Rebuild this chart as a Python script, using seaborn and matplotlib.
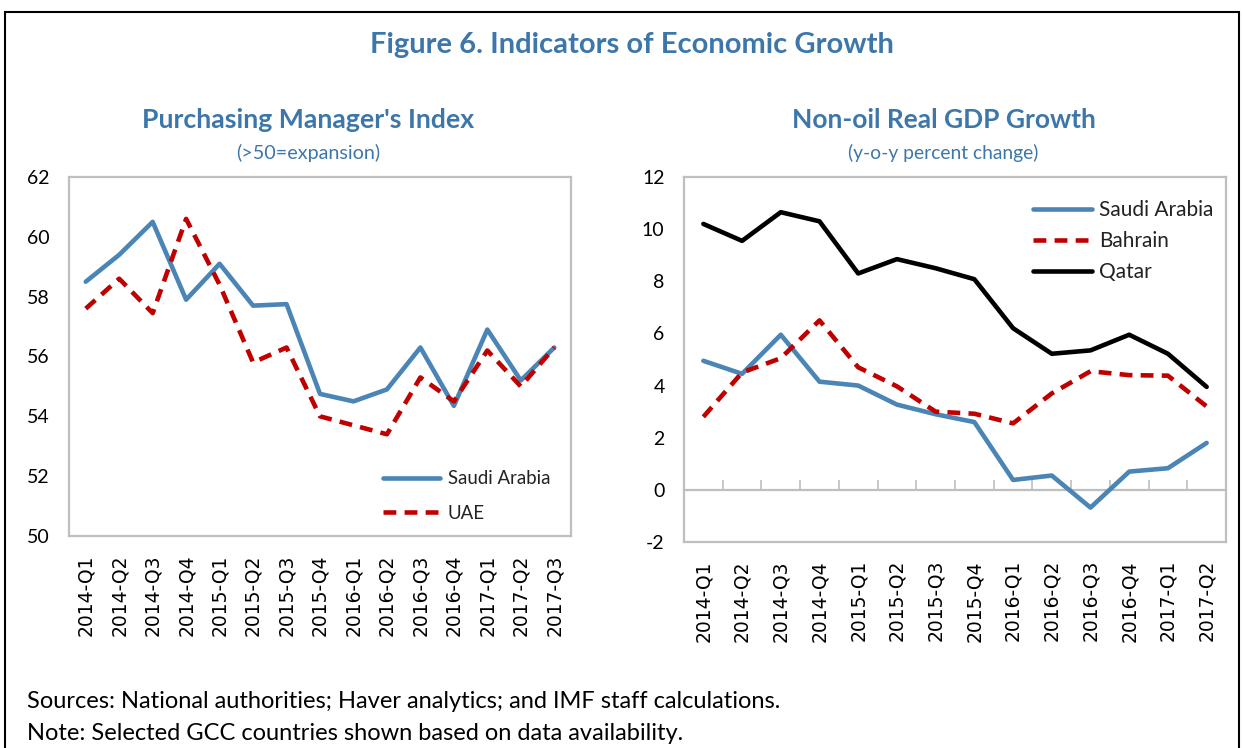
import matplotlib
matplotlib.use("Agg")
import matplotlib.pyplot as plt
import seaborn as sns
import pandas as pd
from matplotlib.patches import Rectangle

# ---------------- data ----------------
pmi_quarters = ["2014-Q1", "2014-Q2", "2014-Q3", "2014-Q4",
                "2015-Q1", "2015-Q2", "2015-Q3", "2015-Q4",
                "2016-Q1", "2016-Q2", "2016-Q3", "2016-Q4",
                "2017-Q1", "2017-Q2", "2017-Q3"]
pmi_saudi = [58.5, 59.4, 60.5, 57.9, 59.1, 57.7, 57.75, 54.75, 54.5, 54.9,
             56.3, 54.35, 56.9, 55.2, 56.3]
pmi_uae = [57.6, 58.6, 57.45, 60.6, 58.4, 55.8, 56.3, 54.0, 53.7, 53.4,
           55.3, 54.5, 56.2, 55.0, 56.3]

gdp_quarters = ["2014-Q1", "2014-Q2", "2014-Q3", "2014-Q4",
                "2015-Q1", "2015-Q2", "2015-Q3", "2015-Q4",
                "2016-Q1", "2016-Q2", "2016-Q3", "2016-Q4",
                "2017-Q1", "2017-Q2"]
gdp_saudi = [4.95, 4.45, 5.95, 4.15, 4.0, 3.27, 2.9, 2.6, 0.38, 0.55,
             -0.68, 0.7, 0.83, 1.8]
gdp_bahrain = [2.8, 4.5, 5.05, 6.5, 4.7, 3.97, 3.0, 2.92, 2.55, 3.7,
               4.55, 4.4, 4.38, 3.2]
gdp_qatar = [10.2, 9.55, 10.65, 10.3, 8.3, 8.85, 8.5, 8.08, 6.2, 5.22,
             5.35, 5.95, 5.22, 3.95]

pmi_yticks = [50, 52, 54, 56, 58, 60, 62]
gdp_yticks = [-2, 0, 2, 4, 6, 8, 10, 12]

# ---------------- style ----------------
sns.set_style("white")
plt.rcParams["font.family"] = ["Lato", "DejaVu Sans"]
plt.rcParams["axes.unicode_minus"] = False

BLUE = "#4A85B5"
RED = "#C00000"
BLACK = "#000000"
TITLE = "#3D77AA"
GRID = "#BFBFBF"

W, H = 1242, 748
fig = plt.figure(figsize=(W / 100, H / 100), dpi=100)
fig.patch.set_facecolor("white")

def fx(px):
    return px / W

def fy(py):
    return 1 - py / H

# outer frame
fig.patches.append(Rectangle((fx(5), fy(800)), fx(1239) - fx(5), fy(12) - fy(800),
                             transform=fig.transFigure, fill=False,
                             edgecolor="black", linewidth=1.5, zorder=0))

ax1 = fig.add_axes([fx(69), fy(536), (571 - 69) / W, (536 - 177) / H])
ax2 = fig.add_axes([fx(684), fy(542), (1226 - 684) / W, (542 - 177) / H])

dash = (0, (2.8, 1.8))
LW = 3.3

df1 = pd.DataFrame({"quarter": pmi_quarters, "Saudi Arabia": pmi_saudi, "UAE": pmi_uae})
df2 = pd.DataFrame({"quarter": gdp_quarters, "Saudi Arabia": gdp_saudi,
                    "Bahrain": gdp_bahrain, "Qatar": gdp_qatar})

sns.lineplot(data=df1, x="quarter", y="Saudi Arabia", ax=ax1, color=BLUE,
             lw=LW, label="Saudi Arabia", sort=False, zorder=3)
sns.lineplot(data=df1, x="quarter", y="UAE", ax=ax1, color=RED,
             lw=LW, label="UAE", sort=False, linestyle=dash, zorder=3)

sns.lineplot(data=df2, x="quarter", y="Saudi Arabia", ax=ax2, color=BLUE,
             lw=LW, label="Saudi Arabia", sort=False, zorder=3)
sns.lineplot(data=df2, x="quarter", y="Bahrain", ax=ax2, color=RED,
             lw=LW, label="Bahrain", sort=False, linestyle=dash, zorder=3)
sns.lineplot(data=df2, x="quarter", y="Qatar", ax=ax2, color=BLACK,
             lw=LW, label="Qatar", sort=False, zorder=3)

def style_axes(ax, quarters, yticks, label_pad):
    n = len(quarters)
    ax.set_xlim(-0.5, n - 0.5)
    ax.set_ylim(yticks[0], yticks[-1])
    ax.set_xlabel("")
    ax.set_ylabel("")
    ax.set_yticks(yticks)
    ax.set_yticklabels([str(t) for t in yticks])
    ax.set_xticks(range(n))
    ax.set_xticklabels(quarters, rotation=90, fontfamily="DejaVu Sans",
                       fontsize=13.5, color="black")
    ax.tick_params(axis="x", which="major", length=0, pad=label_pad)
    ax.tick_params(axis="y", length=0, pad=14, labelsize=14, labelcolor="black")
    for s in ax.spines.values():
        s.set_visible(True)
        s.set_color(GRID)
        s.set_linewidth(1.6)
    ax.grid(False)

style_axes(ax1, pmi_quarters, pmi_yticks, 13.5)
style_axes(ax2, gdp_quarters, gdp_yticks, 13)

# category boundary ticks on the left chart (inside, from the bottom)
ax1.set_xticks([i + 0.5 for i in range(len(pmi_quarters) - 1)], minor=True)
ax1.tick_params(axis="x", which="minor", direction="in", length=7,
                width=1.2, color=GRID)

# zero line with boundary ticks on the right chart
zero_loc = (0 - gdp_yticks[0]) / (gdp_yticks[-1] - gdp_yticks[0])
sec = ax2.secondary_xaxis(zero_loc)
sec.set_xticks([i + 0.5 for i in range(len(gdp_quarters) - 1)])
sec.set_xticklabels([])
sec.tick_params(axis="x", direction="in", length=7, width=1.2, color=GRID)
sec.spines["bottom"].set_color(GRID)
sec.spines["bottom"].set_linewidth(1.6)
for k in ("top", "left", "right"):
    if k in sec.spines:
        sec.spines[k].set_visible(False)

# legends
leg1 = ax1.legend(loc="upper left", bbox_to_anchor=(0.6255, 0.183), frameon=False,
                  fontsize=13.4, handlelength=3.06, handletextpad=0.43,
                  labelspacing=0.94, borderpad=0, borderaxespad=0)
leg2 = ax2.legend(loc="upper left", bbox_to_anchor=(0.644, 0.937), frameon=False,
                  fontsize=15, handlelength=2.83, handletextpad=0.34,
                  labelspacing=0.53, borderpad=0, borderaxespad=0)
for leg in (leg1, leg2):
    for t in leg.get_texts():
        t.set_color("#222222")

# titles
fig.text(fx(632), fy(45), "Figure 6. Indicators of Economic Growth", ha="center",
         va="center", fontsize=21, fontweight="bold", color=TITLE)
fig.text(fx(308), fy(120), "Purchasing Manager's Index", ha="center", va="center",
         fontsize=19.2, fontweight="bold", color=TITLE)
fig.text(fx(308), fy(153), "(>50=expansion)", ha="center", va="center",
         fontsize=14.2, color=TITLE)
fig.text(fx(944), fy(120), "Non-oil Real GDP Growth", ha="center", va="center",
         fontsize=19, fontweight="bold", color=TITLE)
fig.text(fx(943), fy(153), "(y-o-y percent change)", ha="center", va="center",
         fontsize=13.9, color=TITLE)

# footer
fig.text(fx(27), fy(702), "Sources: National authorities; Haver analytics; and IMF staff calculations.",
         ha="left", va="center", fontsize=17, color="black")
fig.text(fx(27), fy(733), "Note: Selected GCC countries shown based on data availability.",
         ha="left", va="center", fontsize=17, color="black")

fig.savefig("out.png", dpi=100)
